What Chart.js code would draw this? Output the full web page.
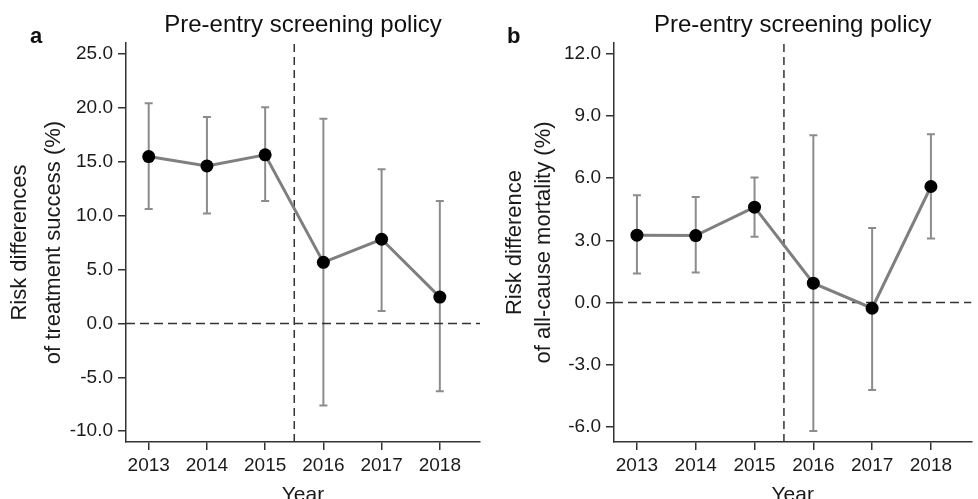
<!DOCTYPE html>
<html>
<head>
<meta charset="utf-8">
<script src="https://cdn.jsdelivr.net/npm/chart.js@4/dist/chart.umd.min.js"></script>
<style>
  html, body { margin: 0; padding: 0; background: #fff; overflow: hidden; }
  #wrap { position: relative; width: 978px; height: 499px; }
  canvas { position: absolute; top: 0; }
  #ca { left: 0; }
  #cb { left: 489px; }
</style>
</head>
<body>
<div id="wrap">
  <canvas id="ca" width="489" height="499"></canvas>
  <canvas id="cb" width="489" height="499"></canvas>
</div>
<script>
// ---- data ----
const years = [2013, 2014, 2015, 2016, 2017, 2018];

const successRD = [15.47, 14.6, 15.63, 5.66, 7.8, 2.44];
const successLo = [10.61, 10.18, 11.35, -7.61, 1.14, -6.29];
const successHi = [20.42, 19.13, 20.05, 18.97, 14.3, 11.35];
const successTicks = [-10, -5, 0, 5, 10, 15, 20, 25];

const mortalityRD = [3.25, 3.23, 4.6, 0.93, -0.28, 5.6];
const mortalityLo = [1.40, 1.45, 3.17, -6.21, -4.23, 3.09];
const mortalityHi = [5.18, 5.09, 6.04, 8.07, 3.6, 8.12];
const mortalityTicks = [-6, -3, 0, 3, 6, 9, 12];

const policyYear = 2015.5;
const panelTitle = 'Pre-entry screening policy';

// ---- rendering ----
const FONT = '"Liberation Sans", Arial, Helvetica, sans-serif';
Chart.defaults.font.family = FONT;
Chart.defaults.color = '#1a1a1a';

const errorBars = {
  id: 'errorBars',
  beforeDatasetsDraw(chart, args, opts) {
    const { ctx, scales: { x, y } } = chart;
    ctx.save();
    ctx.strokeStyle = '#8c8c8c';
    ctx.lineWidth = 2;
    const cap = 4;
    opts.lo.forEach((lo, i) => {
      const px = x.getPixelForValue(years[i]);
      const p1 = y.getPixelForValue(lo);
      const p2 = y.getPixelForValue(opts.hi[i]);
      ctx.beginPath();
      ctx.moveTo(px, p1); ctx.lineTo(px, p2);
      ctx.moveTo(px - cap, p1); ctx.lineTo(px + cap, p1);
      ctx.moveTo(px - cap, p2); ctx.lineTo(px + cap, p2);
      ctx.stroke();
    });
    ctx.restore();
  }
};

const panelText = {
  id: 'panelText',
  afterDraw(chart, args, opts) {
    const { ctx, chartArea } = chart;
    ctx.save();
    ctx.fillStyle = '#111';
    ctx.font = '24px ' + FONT;
    ctx.textAlign = 'center';
    ctx.textBaseline = 'alphabetic';
    ctx.fillText(opts.title, (chartArea.left + chartArea.right) / 2, 32);
    ctx.font = 'bold 22px ' + FONT;
    ctx.textAlign = 'left';
    ctx.fillText(opts.label, opts.labelX, 43);
    ctx.restore();
  }
};

function makeChart(id, cfg) {
  const xMin = 2012.61, xMax = 2018.69;
  return new Chart(document.getElementById(id), {
    type: 'line',
    data: {
      datasets: [
        {
          data: years.map((yr, i) => ({ x: yr, y: cfg.values[i] })),
          borderColor: '#7f7f7f',
          borderWidth: 3,
          pointRadius: 6.5,
          pointBackgroundColor: '#000',
          pointBorderColor: '#000',
          pointBorderWidth: 0,
          tension: 0
        },
        {
          data: [{ x: policyYear, y: cfg.yMin }, { x: policyYear, y: cfg.yMax }],
          borderColor: '#333',
          borderWidth: 1.5,
          borderDash: [8, 5],
          pointRadius: 0
        },
        {
          data: [{ x: xMin, y: 0 }, { x: xMax, y: 0 }],
          borderColor: '#333',
          borderWidth: 1.5,
          borderDash: [9, 5],
          pointRadius: 0
        }
      ]
    },
    options: {
      responsive: false,
      animation: false,
      devicePixelRatio: 1,
      layout: { padding: { top: 43, right: cfg.padRight, bottom: 0, left: 0 } },
      plugins: {
        legend: { display: false },
        tooltip: { enabled: false },
        errorBars: { lo: cfg.lo, hi: cfg.hi },
        panelText: { title: panelTitle, label: cfg.label, labelX: cfg.labelX }
      },
      scales: {
        x: {
          type: 'linear',
          min: xMin,
          max: xMax,
          afterBuildTicks: s => { s.ticks = years.map(v => ({ value: v })); },
          afterFit: s => { s.height = 57; },
          grid: { display: true, drawOnChartArea: false, drawTicks: true, tickLength: 8, color: '#333', lineWidth: 1.5 },
          border: { display: true, color: '#333', width: 1.5 },
          ticks: { font: { size: 19 }, color: '#1a1a1a', padding: 4, maxRotation: 0, callback: v => String(v) },
          title: { display: true, text: 'Year', font: { size: 21 }, color: '#1a1a1a', padding: { top: 0, bottom: -9 } }
        },
        y: {
          type: 'linear',
          min: cfg.yMin,
          max: cfg.yMax,
          afterBuildTicks: s => { s.ticks = cfg.ticks.map(v => ({ value: v })); },
          afterFit: s => { s.width = cfg.axisLeft; },
          grid: { display: true, drawOnChartArea: false, drawTicks: true, tickLength: 8, color: '#333', lineWidth: 1.5 },
          border: { display: true, color: '#333', width: 1.5 },
          ticks: { font: { size: 19 }, color: '#1a1a1a', padding: 5, callback: v => v.toFixed(1) },
          title: { display: true, text: cfg.yTitle, font: { size: 22, lineHeight: cfg.titleLH }, color: '#1a1a1a', padding: { top: cfg.titlePad, bottom: 0 } }
        }
      }
    },
    plugins: [errorBars, panelText]
  });
}

makeChart('ca', {
  values: successRD, lo: successLo, hi: successHi, ticks: successTicks,
  yMin: -11, yMax: 26, axisLeft: 126, padRight: 9, titlePad: 3, titleLH: 1.55,
  label: 'a', labelX: 30,
  yTitle: ['Risk differences', 'of treatment success (%)']
});

makeChart('cb', {
  values: mortalityRD, lo: mortalityLo, hi: mortalityHi, ticks: mortalityTicks,
  yMin: -6.74, yMax: 12.53, axisLeft: 125, padRight: 5, titlePad: 11, titleLH: 1.32,
  label: 'b', labelX: 18,
  yTitle: ['Risk difference', 'of all-cause mortality (%)']
});
</script>
</body>
</html>
